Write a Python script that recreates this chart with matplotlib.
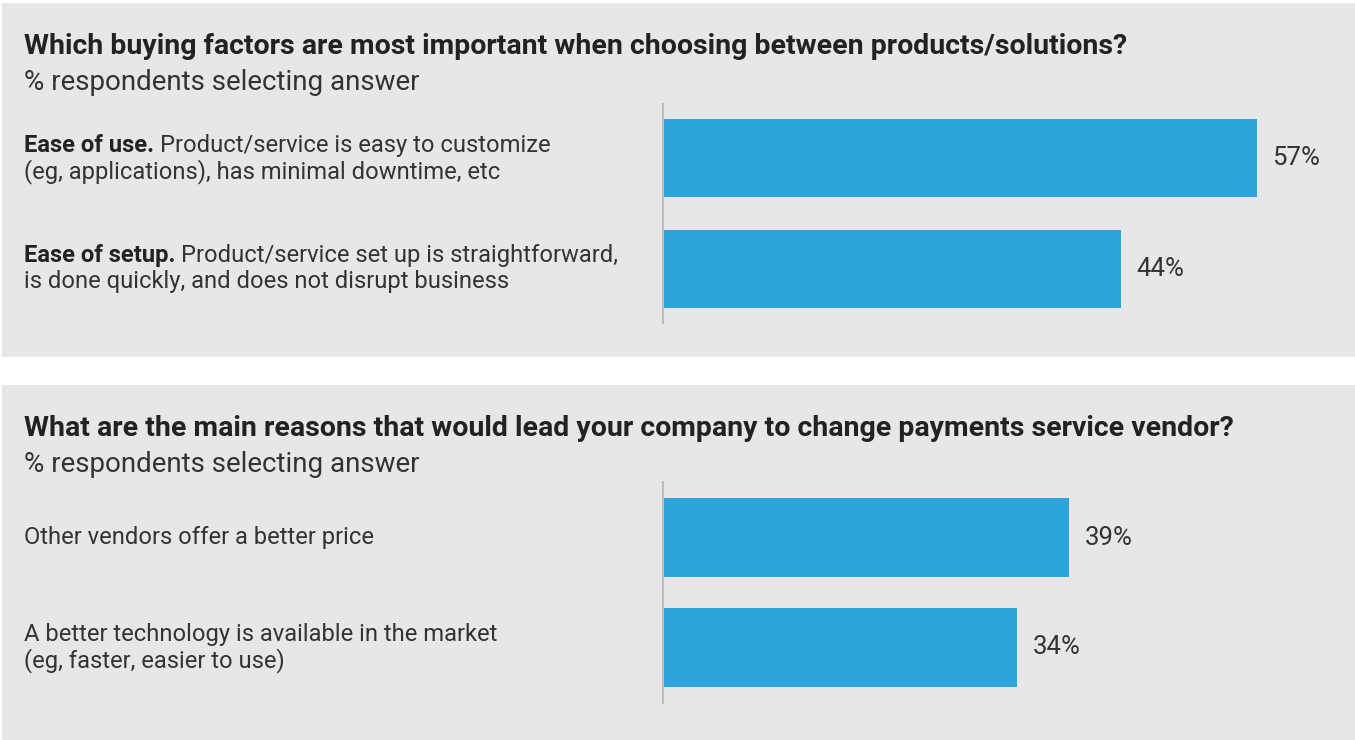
import matplotlib
matplotlib.use("Agg")
import matplotlib.pyplot as plt
from matplotlib.patches import Rectangle
from matplotlib.transforms import blended_transform_factory, offset_copy

plt.rcParams['font.family'] = ['Roboto', 'DejaVu Sans']

# Data
title1 = "Which buying factors are most important when choosing between products/solutions?"
title2 = "What are the main reasons that would lead your company to change payments service vendor?"
subtitle = "% respondents selecting answer"

bold1 = ["Ease of use.", "Ease of setup."]
lines1 = [["Product/service is easy to customize", "(eg, applications), has minimal downtime, etc"],
          ["Product/service set up is straightforward,", "is done quickly, and does not disrupt business"]]
values1 = [57, 44]

lines2 = [["Other vendors offer a better price"],
          ["A better technology is available in the market", "(eg, faster, easier to use)"]]
values2 = [39, 34]

BG = "#e6e7e9"
BAR = "#2ea4dc"
TXT = "#222222"
TXT2 = "#333333"

W, H = 1355, 740
fig = plt.figure(figsize=(W / 100, H / 100), dpi=100)
fig.patch.set_facecolor("white")


def px(x0, y0, x1, y1):
    # pixel box (top-left origin) -> figure fraction rect
    return [x0 / W, 1 - y1 / H, (x1 - x0) / W, (y1 - y0) / H]


# gray panels
for y0, y1 in [(3, 357), (385, 740)]:
    fig.patches.append(Rectangle((2 / W, 1 - y1 / H), (W - 2) / W, (y1 - y0) / H,
                                 transform=fig.transFigure, facecolor=BG,
                                 edgecolor="none", zorder=-5))

fig.canvas.draw()
renderer = fig.canvas.get_renderer()


def panel(top, title, values, lines, bold=None, ax_box=None, pad=0.49, bh=0.70):
    fig.text(24 / W, 1 - (top + 43) / H, title, fontsize=20.5, fontweight="bold",
             color=TXT, va="center", ha="left")
    fig.text(24 / W, 1 - (top + 80) / H, subtitle, fontsize=20,
             color=TXT2, va="center", ha="left")

    ax = fig.add_axes(px(*ax_box))
    ax.set_zorder(2)
    ax.set_facecolor("none")
    pos = list(range(len(values)))
    ax.barh(pos, values, height=bh, color=BAR, edgecolor="none", zorder=2)
    scale = (ax_box[2] - ax_box[0]) / 10.42
    ax.set_xlim(0, scale)
    ax.set_ylim(len(values) - 1 + pad, -pad)
    for s in ["top", "right", "bottom"]:
        ax.spines[s].set_visible(False)
    ax.spines["left"].set_color("#bdbdbd")
    ax.spines["left"].set_linewidth(1.5)
    ax.set_xticks([])
    ax.set_yticks([])

    for p, v in zip(pos, values):
        ax.annotate(f"{v}%", (v, p), xytext=(15, 0), textcoords="offset pixels",
                    va="center", ha="left", fontsize=18.5, color=TXT2)

    tr = blended_transform_factory(fig.transFigure, ax.transData)
    for i, (p, ls) in enumerate(zip(pos, lines)):
        n = len(ls)
        for j, line in enumerate(ls):
            dy = (n - 1) / 2 * 26 - j * 26
            t = offset_copy(tr, fig=fig, x=0, y=dy, units="dots")
            x0 = 24 / W
            if bold is not None and j == 0:
                b = fig.text(x0, p, bold[i] + " ", transform=t, fontsize=17.15,
                             fontweight="bold", color=TXT, va="center", ha="left")
                bw = b.get_window_extent(renderer).width
                t = offset_copy(tr, fig=fig, x=bw, y=dy, units="dots")
            fig.text(x0, p, line, transform=t, fontsize=17.15,
                     color=TXT2, va="center", ha="left")
    return ax


panel(3, title1, values1, lines1, bold=bold1, ax_box=(663, 104, 1351, 323), pad=0.49, bh=0.70)
panel(385, title2, values2, lines2, ax_box=(663, 482, 1351, 703), pad=0.51, bh=0.72)

fig.savefig("out.png", dpi=100, facecolor=fig.get_facecolor())
